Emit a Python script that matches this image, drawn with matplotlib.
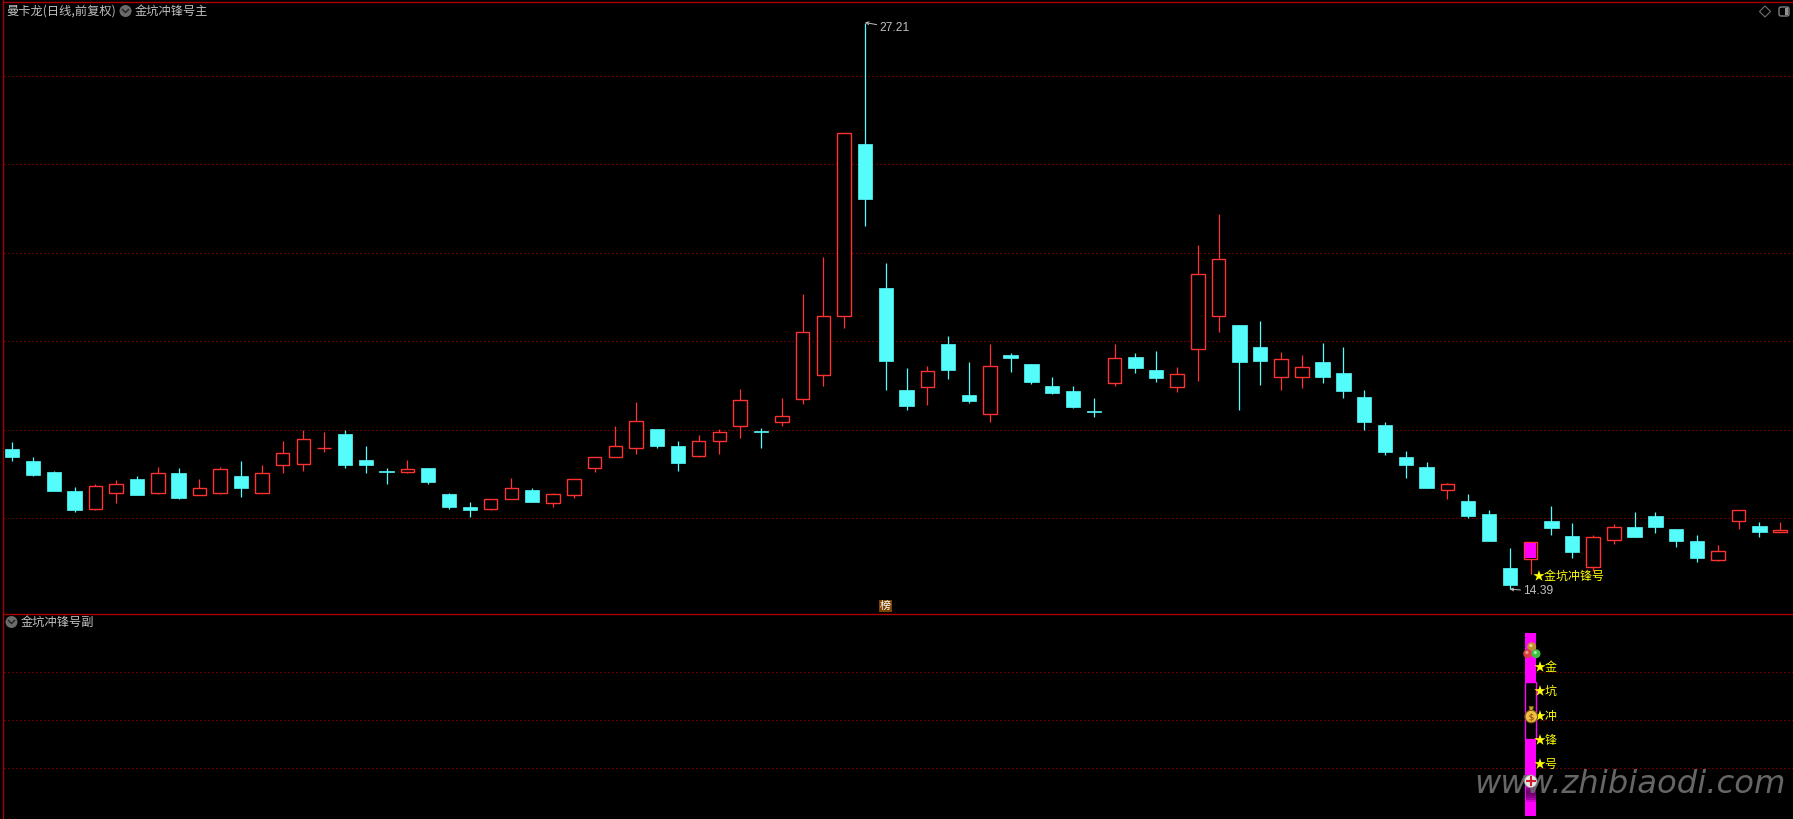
import numpy as np
from matplotlib import pyplot as plt
from matplotlib.patches import Circle, Polygon, Rectangle, FancyBboxPatch

plt.rcParams['font.family'] = ['Noto Sans CJK SC', 'DejaVu Sans']

W, H = 1793, 819

opens = [17.55, 17.30, 17.03, 16.62, 16.21, 16.57, 16.89, 16.57, 17.01, 16.51, 16.57, 16.94, 16.57, 17.21, 17.23,
         17.58, 17.91, 17.32, 17.07, 17.03, 17.12, 16.55, 16.26, 16.21, 16.42, 16.64, 16.35, 16.53, 17.14,
         17.38, 17.58, 18.01, 17.63, 17.40, 17.74, 18.09, 17.97, 18.18, 18.70, 19.24, 20.58, 24.46, 21.20, 18.90,
         18.97, 19.94, 18.78, 18.36, 19.69, 19.48, 18.99, 18.87, 18.42, 19.06, 19.64, 19.35, 18.97, 19.83, 20.58,
         20.37, 19.88, 19.20, 19.18, 19.54, 19.29, 18.74, 18.11, 17.39, 17.16, 16.64, 16.39, 16.08, 14.88, 15.08,
         15.94, 15.60, 14.90, 15.51, 15.80, 16.05, 15.76, 15.49, 15.06, 15.94, 15.83, 15.69]
closes = [17.39, 16.98, 16.62, 16.17, 16.73, 16.76, 16.53, 17.01, 16.46, 16.67, 17.10, 16.67, 17.01, 17.46, 17.78,
          17.59, 17.21, 17.19, 17.03, 17.10, 16.82, 16.26, 16.17, 16.44, 16.67, 16.37, 16.55, 16.89, 17.37,
          17.63, 18.19, 17.63, 17.24, 17.74, 17.94, 18.68, 17.95, 18.31, 20.20, 20.58, 24.70, 23.22, 19.55, 18.53,
          19.32, 19.35, 18.65, 19.45, 19.62, 19.08, 18.83, 18.51, 18.40, 19.61, 19.39, 19.17, 19.25, 21.51, 21.87,
          19.54, 19.56, 19.60, 19.42, 19.20, 18.88, 18.18, 17.50, 17.21, 16.69, 16.78, 16.05, 15.49, 14.49, 15.46,
          15.78, 15.22, 15.58, 15.80, 15.58, 15.80, 15.49, 15.10, 15.26, 16.17, 15.69, 15.72]
highs = [17.71, 17.37, 17.07, 16.71, 16.78, 16.85, 16.96, 17.16, 17.12, 16.89, 17.16, 17.30, 17.21, 17.75, 17.98,
         17.94, 18.00, 17.62, 17.14, 17.32, 17.12, 16.57, 16.37, 16.44, 16.91, 16.67, 16.57, 16.89, 17.39,
         18.08, 18.62, 18.01, 17.74, 17.88, 18.01, 18.92, 18.03, 18.71, 21.07, 21.90, 24.70, 27.21, 21.77, 19.39,
         19.44, 20.12, 19.53, 19.94, 19.73, 19.48, 19.19, 18.99, 18.71, 19.94, 19.73, 19.78, 19.42, 22.18, 22.88,
         20.37, 20.46, 19.76, 19.69, 19.97, 19.88, 18.90, 18.18, 17.52, 17.27, 16.80, 16.55, 16.19, 15.33, 15.46,
         16.28, 15.89, 15.62, 15.87, 16.14, 16.14, 15.76, 15.62, 15.40, 16.17, 15.92, 15.92]
lows = [17.30, 16.94, 16.60, 16.14, 16.17, 16.35, 16.51, 16.55, 16.44, 16.51, 16.55, 16.48, 16.57, 17.01, 17.07,
        17.50, 17.14, 17.01, 16.78, 17.01, 16.78, 16.21, 16.03, 16.19, 16.42, 16.37, 16.26, 16.46, 17.05,
        17.38, 17.45, 17.58, 17.06, 17.38, 17.45, 17.81, 17.58, 18.08, 18.58, 18.99, 20.30, 22.60, 18.90, 18.44,
        18.56, 19.14, 18.60, 18.17, 19.30, 19.03, 18.80, 18.49, 18.28, 18.99, 19.28, 19.08, 18.85, 19.10, 20.21,
        18.45, 19.02, 18.90, 18.95, 19.06, 18.72, 18.00, 17.43, 16.91, 16.69, 16.44, 16.01, 15.49, 14.39, 14.74,
        15.62, 15.10, 14.79, 15.42, 15.58, 15.67, 15.35, 15.01, 15.03, 15.74, 15.58, 15.69]

signal_day = 73
price_grid = [16, 18, 20, 22, 24, 26]
peak_day, peak_price = 41, 27.21
trough_day, trough_price = 72, 14.39

# 副图
sub_grid = [1, 2, 3]
sub_filled = [(0, 1.61), (2.80, 3.82)]
sub_hollow = (1.61, 2.80)
sub_words = ['金', '坑', '冲', '锋', '号']
sub_word_levels = [3.10, 2.60, 2.08, 1.58, 1.08]

RED = '#ff3232'
CYAN = '#54fcfc'
MAGENTA = '#ff00ff'
YELLOW = '#ffff00'
GRID = '#c00000'
FRAME = '#a80000'
GRAY = '#c0c0c0'
PX = 0.72  # 1 pixel in points at dpi 100
LATIN = ['Liberation Sans', 'DejaVu Sans']

fig = plt.figure(dpi=100, figsize=(W / 100, H / 100), facecolor='black')

days = np.arange(len(opens))
x_left = (4 - 12.2) / 20.8
x_right = (W - 12.2) / 20.8

# 主图
ax = fig.add_axes([4 / W, 1 - 613 / H, (W - 4) / W, 613 / H], facecolor='black')
ax.set_xlim(x_left, x_right)
ax.set_ylim(16 - 95 / 44.2, 16 + 518 / 44.2)
ax.axis('off')
for g in price_grid:
    ax.axhline(g, color=GRID, lw=PX, ls=(0, (1, 3)), zorder=1)

opens = np.array(opens)
closes = np.array(closes)
highs = np.array(highs)
lows = np.array(lows)
is_up = closes >= opens

ax.vlines(days[is_up], lows[is_up], highs[is_up], color=RED, lw=0.9, zorder=2)
ax.vlines(days[~is_up], lows[~is_up], highs[~is_up], color=CYAN, lw=0.9, zorder=2)
ax.bar(days[is_up], (closes - opens)[is_up], bottom=opens[is_up], width=0.66, facecolor='black',
       edgecolor=RED, linewidth=1.0, zorder=3)
ax.bar(days[~is_up], (closes - opens)[~is_up], bottom=opens[~is_up], width=0.70, facecolor=CYAN,
       edgecolor=CYAN, linewidth=0.5, zorder=3)
# 信号日: 红框里一根品红柱
ax.bar([signal_day], [closes[signal_day] - opens[signal_day] - 0.03], bottom=opens[signal_day] + 0.015, width=0.50,
       color=MAGENTA, linewidth=0, zorder=4)

for day, price, dx, dy in [(peak_day, peak_price, 10.4, -3.8), (trough_day, trough_price, 9.7, -1.5)]:
    ax.annotate(f'{price:.2f}', xy=(day, price), xytext=(dx, dy), textcoords='offset points',
                color=GRAY, fontsize=12 * PX, family=LATIN, va='center',
                arrowprops=dict(arrowstyle='->', color=GRAY, lw=0.7, mutation_scale=5, shrinkA=0, shrinkB=0))
ax.annotate('★金坑冲锋号', xy=(signal_day, lows[signal_day]), xytext=(1.4, -1.6), textcoords='offset points',
            color=YELLOW, fontsize=12 * PX, va='center', ha='left', zorder=5)

# 副图
ax2 = fig.add_axes([4 / W, 0, (W - 4) / W, (H - 614) / H], facecolor='black')
ax2.set_xlim(x_left, x_right)
ax2.set_ylim(-2.7 / 48, (816.3 - 614) / 48)
ax2.axis('off')
for g in sub_grid:
    ax2.axhline(g, color=GRID, lw=PX, ls=(0, (1, 3)), zorder=1)
for lo, hi in sub_filled:
    ax2.bar([signal_day], [hi - lo], bottom=lo, width=0.53, color=MAGENTA, linewidth=0, zorder=2)
ax2.bar([signal_day], [sub_hollow[1] - sub_hollow[0]], bottom=sub_hollow[0], width=0.50, facecolor='black',
        edgecolor=MAGENTA, linewidth=1.0, zorder=2)
for word, level in zip(sub_words, sub_word_levels):
    ax2.text(signal_day + 0.13, level, '★' + word, color=YELLOW, fontsize=12 * PX, va='center', ha='left', zorder=6)

# 叠加层: 边框, 标题, 图标
top = fig.add_axes([0, 0, 1, 1], facecolor='none')
top.set_xlim(0, W)
top.set_ylim(H, 0)
top.axis('off')
top.plot([3, W], [1.5, 1.5], color=FRAME, lw=1.0)
top.plot([3, W], [613.5, 613.5], color=FRAME, lw=1.0)
top.plot([3, 3], [0, H], color=FRAME, lw=1.0)


def header_icon(x, y):
    top.add_patch(Circle((x, y), 6, color='#6a6a6a', lw=0))
    top.plot([x - 3, x, x + 3], [y - 1.5, y + 1.5, y - 1.5], color='#202020', lw=1.0)


header_icon(125.5, 11)
header_icon(11.5, 622)
top.text(6, 11, '曼卡龙(日线,前复权)', color=GRAY, fontsize=12.2 * PX, va='center', ha='left')
top.text(135, 11, '金坑冲锋号主', color=GRAY, fontsize=12.2 * PX, va='center', ha='left')
top.text(21, 622, '金坑冲锋号副', color=GRAY, fontsize=12.2 * PX, va='center', ha='left')

top.add_patch(Polygon([(1765, 6), (1770.5, 11.5), (1765, 17), (1759.5, 11.5)], closed=True, fill=False,
                      edgecolor='#707070', lw=0.8))
top.add_patch(FancyBboxPatch((1779, 7), 10, 9, boxstyle='round,pad=0,rounding_size=2', fill=False,
                             edgecolor='#808080', lw=1.0))
top.add_patch(Rectangle((1785, 8), 3, 7, color='#909090', lw=0))

# 榜
top.add_patch(Rectangle((879, 600), 13, 12, color='#7a4300', lw=0))
top.text(885.5, 606, '榜', color='white', fontsize=11 * PX, va='center', ha='center')

# 三个球
for bx, by, c, hl in [(1531.7, 646.7, '#c09030', '#f0d080'), (1527.7, 653.7, '#d84040', '#f09090'),
                      (1536, 653.7, '#40c040', '#a0f0a0')]:
    top.add_patch(Circle((bx, by), 4.5, color=c, lw=0, zorder=5))
    top.add_patch(Circle((bx - 0.8, by - 1.2), 1.6, color=hl, lw=0, zorder=5))

# 钱袋
top.add_patch(Circle((1531.3, 716.5), 6.3, facecolor='#f0c040', edgecolor='#7a5a10', lw=0.8, zorder=5))
top.add_patch(Polygon([(1529, 706.5), (1533.5, 706.5), (1532.5, 710.5), (1530, 710.5)], closed=True,
                      facecolor='#d0a030', edgecolor='#7a5a10', lw=0.6, zorder=5))
top.plot([1531.3], [716.5], marker=r'$\$$', color='#803010', ms=6, mew=0, ls='', zorder=6)

# 水印
for i, dy in enumerate(range(784, 802, 2)):
    top.add_patch(Rectangle((1526, dy), 11, 2, color='black', alpha=0.55 * np.sin(np.pi * (i + 1) / 10), lw=0, zorder=5))
top.text(1786, 793, 'www.zhibiaodi.com', color='#666666', fontsize=23.2, style='italic', ha='right', va='baseline',
         family='DejaVu Sans', zorder=6)

# 图钉
top.add_patch(Circle((1530.7, 781.3), 6.3, facecolor='#e8e8e8', edgecolor='#909090', lw=0.6, zorder=7))
top.plot([1530.7], [781.3], marker='+', color='#d02030', ms=7, mew=1.5, ls='', zorder=8)

fig.savefig('out.png', dpi=100, facecolor='black')
